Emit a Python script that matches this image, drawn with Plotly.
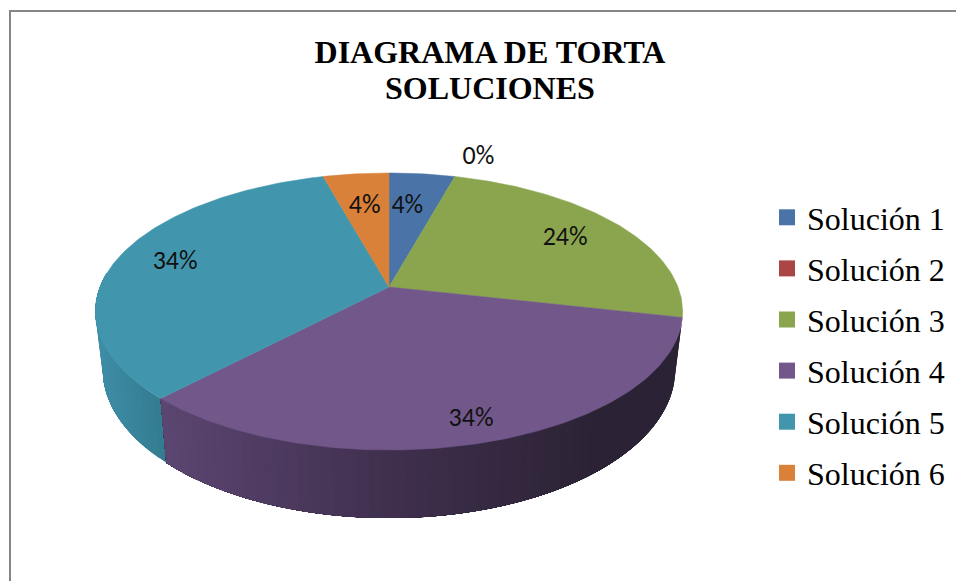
import numpy as np
import plotly.graph_objects as go

# ---- data ----
categories = ["Solución 1", "Solución 2", "Solución 3", "Solución 4", "Solución 5", "Solución 6"]
values = [4.3, 0.0, 24.2, 33.6, 33.6, 4.3]
pct_labels = ["4%", "0%", "24%", "34%", "34%", "4%"]
colors = ["#4a74a8", "#aa4644", "#8aa54e", "#71578a", "#4196ae", "#d98039"]
title_lines = ["DIAGRAMA DE TORTA", "SOLUCIONES"]

# ---- 3-D projection settings (pixel space) ----
W, H = 956, 581
CX, CY = 389.0, 287.0
BX, AY, K = 289.0, 134.2, 0.177
DEPTH = 56.0
LOW_SCALE = 0.975
LABEL_RADIUS = [0.70, 1.25, 0.76, 0.855, 0.80, 0.70]
LABEL_DX = [-6.0, 10.0, 0.0, -2.0, 3.0, 0.0]
LABEL_DY = [2.0, 4.0, 1.0, 4.5, 0.5, 2.0]


def top(a, r=1.0):
    u, v = r * np.sin(a), r * np.cos(a)
    d = 1 + K * v
    return CX + BX * u / d, CY - AY * v / d


def low(a):
    x, y = top(a)
    v = np.cos(a)
    return CX + (x - CX) * LOW_SCALE, y + DEPTH / (1 + K * v)


def mix(c1, c2, t):
    a = [int(c1[i:i + 2], 16) for i in (1, 3, 5)]
    b = [int(c2[i:i + 2], 16) for i in (1, 3, 5)]
    return "#%02x%02x%02x" % tuple(round(p + (q - p) * t) for p, q in zip(a, b))


def side_colour(i, xm):
    """Side shading as a left-to-right gradient along the rim."""
    if i == 4:  # teal side
        return mix("#3e8ca6", "#347d91", np.clip((xm - 100) / 60, 0, 1))
    t = np.clip((xm - 160) / 440, 0, 1)  # purple side
    if t < 0.55:
        return mix("#5c4672", "#3f2f4d", t / 0.55)
    return mix("#3f2f4d", "#2b2335", (t - 0.55) / 0.45)


total = sum(values)
edges = np.cumsum([0.0] + values) / total * 2 * np.pi
fig = go.Figure()

# side walls: bands painted from the far end so each one overlaps the next
for i, lo, hi in [(4, edges[4], np.radians(276)), (3, edges[3], edges[4])]:
    n = max(int((hi - lo) / np.radians(2.0)), 1)
    steps = np.linspace(lo, hi, n + 1)
    for s0 in steps[:-1]:
        sub = np.linspace(s0, hi, 40)
        xt, yt = top(sub)
        xl, yl = low(sub)
        xs = np.r_[xt, xl[::-1], xt[0]]
        ys = np.r_[yt, yl[::-1], yt[0]]
        c = side_colour(i, top(s0)[0])
        fig.add_trace(go.Scatter(x=xs, y=ys, mode="lines", fill="toself", fillcolor=c,
                                 line=dict(width=0), showlegend=False, hoverinfo="skip"))

# top faces
for i, v in enumerate(values):
    if v <= 0:
        continue
    a = np.linspace(edges[i], edges[i + 1], max(int(v * 4), 6))
    xr, yr = top(a)
    fig.add_trace(go.Scatter(x=np.r_[CX, xr, CX], y=np.r_[CY, yr, CY], mode="lines", fill="toself",
                             fillcolor=colors[i], line=dict(color=colors[i], width=0.5),
                             showlegend=False, hoverinfo="skip"))

# percentage labels
mid = (edges[:-1] + edges[1:]) / 2
lx, ly = top(mid, np.array(LABEL_RADIUS))
fig.add_trace(go.Scatter(x=lx + np.array(LABEL_DX), y=ly + np.array(LABEL_DY), mode="text", text=pct_labels,
                         textposition="middle center",
                         textfont=dict(family="Carlito, Lato, sans-serif", size=26, color="#111111"),
                         showlegend=False, hoverinfo="skip"))

# legend entries
for i, name in enumerate(categories):
    fig.add_trace(go.Scatter(x=[None], y=[None], mode="markers", name=name, legendgroup=name,
                             marker=dict(symbol="square", size=16, color=colors[i])))

fig.update_layout(
    width=W, height=H, autosize=False,
    margin=dict(l=0, r=0, t=0, b=0),
    paper_bgcolor="white", plot_bgcolor="white",
    xaxis=dict(range=[0, W], visible=False, fixedrange=True),
    yaxis=dict(range=[H, 0], visible=False, fixedrange=True),
    title=dict(text=title_lines[0], x=490 / W, xanchor="center", y=1 - 52 / H, yanchor="middle",
               font=dict(family="Liberation Serif", size=32, color="black", weight="bold")),
    annotations=[dict(text=title_lines[1], xref="x", yref="y", x=490, y=88, showarrow=False,
                      xanchor="center", yanchor="middle",
                      font=dict(family="Liberation Serif", size=32, color="black", weight="bold"))],
    legend=dict(x=767 / W, y=1 - 190 / H, xanchor="left", yanchor="top",
                font=dict(family="Liberation Serif", size=32, color="black"),
                bgcolor="rgba(0,0,0,0)", tracegroupgap=6.5, itemclick=False, itemdoubleclick=False),
    shapes=[
        dict(type="line", xref="x", yref="y", x0=10, x1=10, y0=11, y1=H, line=dict(color="#868686", width=2)),
        dict(type="line", xref="x", yref="y", x0=9, x1=W, y0=11, y1=11, line=dict(color="#868686", width=2)),
    ],
)
fig.write_html("out.html", config=dict(displayModeBar=False),
               post_script="document.body.style.margin='0';document.body.style.overflow='hidden';")
